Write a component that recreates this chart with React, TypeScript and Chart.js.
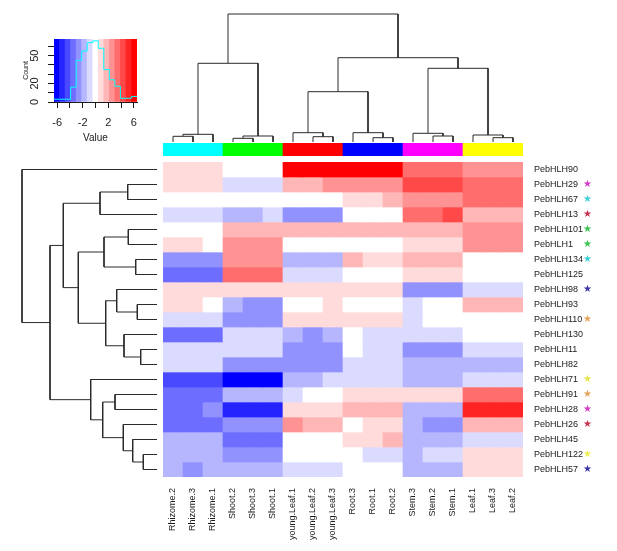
import React, { useEffect, useRef } from "react";
import { Chart, registerables } from "chart.js";

Chart.register(...registerables);

const FONT = "'Liberation Sans', Arial, Helvetica, sans-serif";
const TEXT = "#1a1a1a";
const LINE = "#2a2a2a";

// ---------- data ----------
const columnLabels = [
  "Rhizome.2", "Rhizome.3", "Rhizome.1",
  "Shoot.2", "Shoot.3", "Shoot.1",
  "young.Leaf.1", "young.Leaf.2", "young.Leaf.3",
  "Root.3", "Root.1", "Root.2",
  "Stem.3", "Stem.2", "Stem.1",
  "Leaf.1", "Leaf.3", "Leaf.2",
];

const columnGroupColors = [
  "#00FFFF", "#00FFFF", "#00FFFF",
  "#00FF00", "#00FF00", "#00FF00",
  "#FF0000", "#FF0000", "#FF0000",
  "#0000FF", "#0000FF", "#0000FF",
  "#FF00FF", "#FF00FF", "#FF00FF",
  "#FFFF00", "#FFFF00", "#FFFF00",
];

const rowLabels = [
  "PebHLH90", "PebHLH29", "PebHLH67", "PebHLH13", "PebHLH101", "PebHLH1",
  "PebHLH134", "PebHLH125", "PebHLH98", "PebHLH93", "PebHLH110", "PebHLH130",
  "PebHLH11", "PebHLH82", "PebHLH71", "PebHLH91", "PebHLH28", "PebHLH26",
  "PebHLH45", "PebHLH122", "PebHLH57",
];

const rowStarColors = [
  "", "#d63cc8", "#3ccfd6", "#c8304f", "#3cc253", "#3cc253",
  "#3ccfd6", "", "#3a34a8", "", "#e2a45a", "",
  "", "", "#e4e44a", "#e2a45a", "#d63cc8", "#c8304f",
  "", "#eeee52", "#3a34a8",
];

// z-scores per row, in displayed column order
const heatValues: number[][] = [
  [0.9, 0.9, 0.9, 0, 0, 0, 6.1, 6.1, 6.1, 6.1, 6.1, 6.1, 3.5, 3.5, 3.5, 2.6, 2.6, 2.6],
  [0.9, 0.9, 0.9, -0.9, -0.9, -0.9, 1.7, 1.7, 2.6, 2.6, 2.6, 2.6, 4.3, 4.3, 4.3, 3.5, 3.5, 3.5],
  [0, 0, 0, 0, 0, 0, 0, 0, 0, 0.9, 0.9, 1.7, 2.6, 2.6, 2.6, 3.5, 3.5, 3.5],
  [-0.9, -0.9, -0.9, -1.7, -1.7, -0.9, -2.6, -2.6, -2.6, 0, 0, 0, 3.5, 3.5, 4.3, 1.7, 1.7, 1.7],
  [0, 0, 0, 1.7, 1.7, 1.7, 1.7, 1.7, 1.7, 1.7, 1.7, 1.7, 1.7, 1.7, 1.7, 2.6, 2.6, 2.6],
  [0.9, 0.9, 0, 2.6, 2.6, 2.6, 0, 0, 0, 0, 0, 0, 0.9, 0.9, 0.9, 2.6, 2.6, 2.6],
  [-2.6, -2.6, -2.6, 2.6, 2.6, 2.6, -1.7, -1.7, -1.7, 1.7, 0.9, 0.9, 1.7, 1.7, 1.7, 0, 0, 0],
  [-3.5, -3.5, -3.5, 3.5, 3.5, 3.5, -0.9, -0.9, -0.9, 0, 0, 0, 0.9, 0.9, 0.9, 0, 0, 0],
  [0.9, 0.9, 0.9, 0.9, 0.9, 0.9, 0.9, 0.9, 0.9, 0.9, 0.9, 0.9, -2.6, -2.6, -2.6, -0.9, -0.9, -0.9],
  [0.9, 0.9, 0, -1.7, -2.6, -2.6, 0, 0, 0.9, 0, 0, 0, -0.9, 0, 0, 1.7, 1.7, 1.7],
  [-0.9, -0.9, -0.9, -2.6, -2.6, -2.6, 0.9, 0.9, 0.9, 0.9, 0.9, 0.9, -0.9, 0, 0, 0, 0, 0],
  [-3.5, -3.5, -3.5, -0.9, -0.9, -0.9, -1.7, -2.6, -1.7, 0, -0.9, -0.9, -0.9, -0.9, -0.9, 0, 0, 0],
  [-0.9, -0.9, -0.9, -0.9, -0.9, -0.9, -2.6, -2.6, -2.6, 0, -0.9, -0.9, -2.6, -2.6, -2.6, -0.9, -0.9, -0.9],
  [-0.9, -0.9, -0.9, -2.6, -2.6, -2.6, -2.6, -2.6, -2.6, -0.9, -0.9, -0.9, -1.7, -1.7, -1.7, -1.7, -1.7, -1.7],
  [-4.3, -4.3, -4.3, -6.1, -6.1, -6.1, -1.7, -1.7, -0.9, -0.9, -0.9, -0.9, -1.7, -1.7, -1.7, -0.9, -0.9, -0.9],
  [-3.5, -3.5, -3.5, -1.7, -1.7, -1.7, -0.9, 0, 0, 0.9, 0.9, 0.9, 0.9, 0.9, 0.9, 3.5, 3.5, 3.5],
  [-3.5, -3.5, -2.6, -5.2, -5.2, -5.2, 0.9, 0.9, 0.9, 1.7, 1.7, 1.7, -1.7, -1.7, -1.7, 5.2, 5.2, 5.2],
  [-3.5, -3.5, -3.5, -2.6, -2.6, -2.6, 2.6, 1.7, 1.7, 0, 0.9, 0.9, -1.7, -2.6, -2.6, 1.7, 1.7, 1.7],
  [-1.7, -1.7, -1.7, -3.5, -3.5, -3.5, 0, 0, 0, 0.9, 0.9, 1.7, -1.7, -1.7, -1.7, -0.9, -0.9, -0.9],
  [-1.7, -1.7, -1.7, -2.6, -2.6, -2.6, 0, 0, 0, 0, -0.9, -0.9, -1.7, -0.9, -0.9, 0.9, 0.9, 0.9],
  [-1.7, -2.6, -1.7, -1.7, -1.7, -1.7, -0.9, -0.9, -0.9, 0, 0, 0, -1.7, -1.7, -1.7, 0.9, 0.9, 0.9],
];

// hclust-style merges: negative = leaf (1-based display position), positive = earlier merge
const colMerges: [number, number][] = [
  [-1, -2], [1, -3], [-4, -5], [3, -6], [2, 4],
  [-8, -9], [-7, 6], [-11, -12], [-10, 8], [7, 9],
  [-14, -15], [-13, 11], [-17, -18], [-16, 13], [12, 14],
  [10, 15], [5, 16],
];
const colHeights = [5.7, 7.7, 3.7, 6.0, 78.7, 5.3, 9.3, 4.3, 9.3, 50.3, 6.0, 8.7, 4.3, 7.0, 73.7, 84.3, 128];

const rowMerges: [number, number][] = [
  [-20, -21], [-19, 1], [-18, 2], [-16, -17], [4, 3],
  [-15, 5], [-2, -3], [7, -4], [-5, -6], [-7, -8],
  [9, 10], [-10, -11], [-9, 12], [-13, -14], [-12, 14],
  [13, 15], [11, 16], [8, 17], [18, 6], [-1, 19],
];
const rowHeights = [13.7, 24.3, 33.7, 42, 54.3, 66.3, 29.3, 57, 28.7, 21.3, 53, 19.7, 40.3, 16.3, 33, 51.3, 78.7, 93.7, 107, 135];

// colour key
const KEY_MIN = -6.5;
const KEY_MAX = 6.5;
const KEY_BANDS = 15;
const KEY_COUNT_MAX = 68;
const histCounts = [3, 3, 3, 16, 45, 55, 64, 66, 58, 35, 24, 17, 4, 4, 6];
const keyXTicks = [-6, -4, -2, 0, 2, 4, 6];
const keyXLabels = [-6, -2, 2, 6];
const keyYTicks = [0, 10, 20, 30, 40, 50, 60];
const keyYLabels = [0, 20, 50];

// ---------- helpers ----------
const bandWidth = (KEY_MAX - KEY_MIN) / KEY_BANDS;
function bandColor(i: number): string {
  const mid = (KEY_BANDS - 1) / 2;
  if (i < mid) {
    const c = Math.round((255 * i) / mid);
    return `rgb(${c},${c},255)`;
  }
  const c = Math.round((255 * (KEY_BANDS - 1 - i)) / mid);
  return `rgb(255,${c},${c})`;
}
function valueColor(v: number): string {
  let i = Math.floor((v - KEY_MIN) / bandWidth);
  i = Math.max(0, Math.min(KEY_BANDS - 1, i));
  return bandColor(i);
}

function dendroSegments(merges: [number, number][], heights: number[]) {
  const pos: number[] = [];
  const hgt: number[] = [];
  const node = (k: number) =>
    k < 0 ? { p: -k - 1, h: 0 } : { p: pos[k - 1], h: hgt[k - 1] };
  const segs: { p: number; h: number }[][] = [];
  merges.forEach(([a, b], m) => {
    const A = node(a);
    const B = node(b);
    const h = heights[m];
    pos[m] = (A.p + B.p) / 2;
    hgt[m] = h;
    segs.push([
      { p: A.p, h: A.h },
      { p: A.p, h },
      { p: B.p, h },
      { p: B.p, h: B.h },
    ]);
  });
  return segs;
}

const hiddenScale = { display: false };

// fix an axis box size and drop the extra label-overhang padding
function fixBox(size: { width?: number; height?: number }) {
  return (s: any) => {
    if (size.width !== undefined) s.width = size.width;
    if (size.height !== undefined) s.height = size.height;
    s.paddingTop = 0;
    s.paddingBottom = 0;
    s.paddingLeft = 0;
    s.paddingRight = 0;
  };
}

export default function App() {
  const keyRef = useRef<HTMLCanvasElement>(null);
  const topRef = useRef<HTMLCanvasElement>(null);
  const barRef = useRef<HTMLCanvasElement>(null);
  const leftRef = useRef<HTMLCanvasElement>(null);
  const heatRef = useRef<HTMLCanvasElement>(null);

  useEffect(() => {
    const charts: Chart[] = [];

    // ---- colour key ----
    const bandCenters = Array.from({ length: KEY_BANDS }, (_, i) => KEY_MIN + (i + 0.5) * bandWidth);
    const histPoints = histCounts.map((c, i) => ({ x: KEY_MIN + i * bandWidth, y: c }));
    histPoints.push({ x: KEY_MAX, y: histCounts[histCounts.length - 1] });

    charts.push(
      new Chart(keyRef.current!, {
        type: "bar",
        data: {
          datasets: [
            {
              type: "line",
              data: histPoints,
              borderColor: "#00FFFF",
              borderWidth: 1,
              stepped: true,
              pointRadius: 0,
              fill: false,
              order: 0,
            } as any,
            {
              type: "bar",
              data: bandCenters.map((c) => ({ x: c, y: [0, KEY_COUNT_MAX] })),
              backgroundColor: bandCenters.map((_, i) => bandColor(i)),
              borderWidth: 0,
              barPercentage: 1,
              categoryPercentage: 1,
              order: 1,
            } as any,
          ],
        },
        options: {
          animation: false,
          responsive: false,
          layout: { padding: { top: 9, right: 8, left: 0, bottom: 0 } },
          plugins: { legend: { display: false }, tooltip: { enabled: false } },
          scales: {
            x: {
              type: "linear",
              min: KEY_MIN,
              max: KEY_MAX,
              offset: false,
              afterBuildTicks: (s: any) => {
                s.ticks = keyXTicks.map((v) => ({ value: v }));
              },
              afterFit: fixBox({ height: 42 }),
              ticks: {
                autoSkip: false,
                maxRotation: 0,
                padding: 8,
                color: TEXT,
                font: { family: FONT, size: 11 },
                callback: (v: any) => (keyXLabels.includes(Number(v)) ? String(v) : ""),
              },
              grid: { drawOnChartArea: false, drawTicks: true, tickLength: 6, color: TEXT, offset: false },
              border: { display: true, color: TEXT },
              title: { display: true, text: "Value", color: TEXT, font: { family: FONT, size: 10 }, padding: 0 },
            },
            y: {
              type: "linear",
              min: 0,
              max: KEY_COUNT_MAX,
              afterBuildTicks: (s: any) => {
                s.ticks = keyYTicks.map((v) => ({ value: v }));
              },
              afterFit: fixBox({ width: 44 }),
              ticks: {
                autoSkip: false,
                minRotation: 90,
                maxRotation: 90,
                crossAlign: "center",
                padding: 7,
                color: TEXT,
                font: { family: FONT, size: 11 },
                callback: (v: any) => (keyYLabels.includes(Number(v)) ? String(v) : ""),
              },
              grid: { drawOnChartArea: false, drawTicks: true, tickLength: 6, color: TEXT },
              border: { display: true, color: TEXT },
              title: { display: true, text: "Count", color: TEXT, font: { family: FONT, size: 7 }, padding: { top: 12, bottom: 0 } },
            },
          },
        } as any,
      })
    );

    // ---- top (column) dendrogram ----
    const colSegs = dendroSegments(colMerges, colHeights);
    charts.push(
      new Chart(topRef.current!, {
        type: "scatter",
        data: {
          datasets: colSegs.map((seg) => ({
            data: seg.map((q) => ({ x: q.p, y: q.h })),
            showLine: true,
            pointRadius: 0,
            borderColor: LINE,
            borderWidth: 1,
            clip: false,
          })),
        },
        options: {
          animation: false,
          responsive: false,
          layout: { padding: 0 },
          plugins: { legend: { display: false }, tooltip: { enabled: false } },
          scales: {
            x: { type: "linear", min: -0.5, max: columnLabels.length - 0.5, ...hiddenScale },
            y: { type: "linear", min: 0, max: 130, ...hiddenScale },
          },
        } as any,
      })
    );

    // ---- column side colour bar ----
    charts.push(
      new Chart(barRef.current!, {
        type: "bar",
        data: {
          labels: columnLabels,
          datasets: [
            {
              data: columnLabels.map(() => 1),
              backgroundColor: columnGroupColors,
              borderWidth: 0,
              barPercentage: 1,
              categoryPercentage: 1,
            },
          ],
        },
        options: {
          animation: false,
          responsive: false,
          layout: { padding: 0 },
          plugins: { legend: { display: false }, tooltip: { enabled: false } },
          scales: {
            x: { ...hiddenScale },
            y: { min: 0, max: 1, ...hiddenScale },
          },
        } as any,
      })
    );

    // ---- left (row) dendrogram ----
    const rowSegs = dendroSegments(rowMerges, rowHeights);
    charts.push(
      new Chart(leftRef.current!, {
        type: "scatter",
        data: {
          datasets: rowSegs.map((seg) => ({
            data: seg.map((q) => ({ x: q.h, y: q.p })),
            showLine: true,
            pointRadius: 0,
            borderColor: LINE,
            borderWidth: 1,
            clip: false,
          })),
        },
        options: {
          animation: false,
          responsive: false,
          layout: { padding: 0 },
          plugins: { legend: { display: false }, tooltip: { enabled: false } },
          scales: {
            x: { type: "linear", min: 0, max: 137, reverse: true, ...hiddenScale },
            y: { type: "linear", min: -0.5, max: rowLabels.length - 0.5, reverse: true, ...hiddenScale },
          },
        } as any,
      })
    );

    // ---- heatmap ----
    const rowTicks = (s: any) => {
      s.ticks = rowLabels.map((_, i) => ({ value: i + 0.5 }));
    };
    charts.push(
      new Chart(heatRef.current!, {
        type: "bar",
        data: {
          labels: columnLabels,
          datasets: rowLabels.map((name, r) => ({
            label: name,
            data: columnLabels.map(() => 1),
            backgroundColor: heatValues[r].map(valueColor),
            borderWidth: 0,
            barPercentage: 1,
            categoryPercentage: 1,
            stack: "rows",
            yAxisID: "y",
          })),
        },
        options: {
          animation: false,
          responsive: false,
          layout: { padding: 0 },
          plugins: { legend: { display: false }, tooltip: { enabled: false } },
          scales: {
            x: {
              stacked: true,
              grid: { display: false, drawTicks: false },
              border: { display: false },
              afterFit: fixBox({ height: 74 }),
              ticks: {
                autoSkip: false,
                minRotation: 90,
                maxRotation: 90,
                padding: 11,
                color: TEXT,
                font: { family: FONT, size: 9 },
              },
            },
            y: {
              type: "linear",
              stacked: true,
              position: "right",
              min: 0,
              max: rowLabels.length,
              reverse: true,
              weight: 1,
              grid: { display: false, drawTicks: false },
              border: { display: false },
              afterBuildTicks: rowTicks,
              afterFit: fixBox({ width: 60 }),
              ticks: {
                autoSkip: false,
                padding: 11,
                color: TEXT,
                font: { family: FONT, size: 9 },
                callback: (_v: any, i: number) => rowLabels[i],
              },
            },
            stars: {
              type: "linear",
              axis: "y",
              position: "right",
              min: 0,
              max: rowLabels.length,
              reverse: true,
              weight: 2,
              grid: { display: false, drawTicks: false },
              border: { display: false },
              afterBuildTicks: rowTicks,
              afterFit: fixBox({ width: 34 }),
              ticks: {
                autoSkip: false,
                padding: 0,
                font: { family: "'DejaVu Sans', sans-serif", size: 10 },
                color: (ctx: any) => rowStarColors[ctx.index] || "rgba(0,0,0,0)",
                callback: (_v: any, i: number) => (rowStarColors[i] ? "\u2605" : ""),
              },
            },
          },
        } as any,
      })
    );

    return () => charts.forEach((c) => c.destroy());
  }, []);

  const abs = (left: number, top: number, width: number, height: number): React.CSSProperties => ({
    position: "absolute",
    left,
    top,
    width,
    height,
  });

  return (
    <div style={{ position: "absolute", left: 0, top: 0, width: 617, height: 551, background: "#ffffff", overflow: "hidden" }}>
      <canvas ref={keyRef} width={135} height={114} style={abs(10, 30, 135, 114)} />
      <canvas ref={topRef} width={360} height={130} style={abs(163, 12, 360, 130)} />
      <canvas ref={barRef} width={360} height={13} style={abs(163, 143, 360, 13)} />
      <canvas ref={leftRef} width={137} height={315} style={abs(20, 162, 137, 315)} />
      <canvas ref={heatRef} width={454} height={389} style={abs(163, 162, 454, 389)} />
    </div>
  );
}
